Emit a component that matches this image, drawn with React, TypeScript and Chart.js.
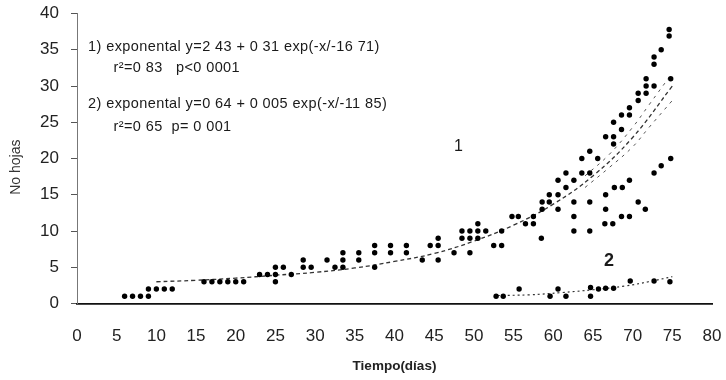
import React, { useEffect, useRef } from "react";
import { Chart, registerables } from "chart.js";

Chart.register(...registerables);

// Series 1 (Tiempo en días, Nº de hojas)
const s1Days = [
  6, 7, 8, 9, 9, 10, 11, 12,
  16, 17, 18, 19, 20, 21,
  23, 24, 25, 25, 25, 26, 27,
  28.5, 28.5, 29.5, 31.5, 32.5, 33.5, 33.5, 33.5,
  35.5, 35.5, 37.5, 37.5, 37.5, 39.5, 39.5,
  41.5, 41.5, 43.5, 44.5, 45.5, 45.5, 45.5, 47.5,
  48.5, 48.5, 49.5, 49.5, 49.5, 50.5, 50.5, 50.5, 51.5,
  52.5, 53.5, 53.5, 54.8, 55.6, 56.5, 57.5, 57.5,
  58.5, 58.6, 58.6, 59.5, 59.5, 60.6, 60.6, 60.6,
  61.6, 61.6, 62.6, 62.6, 62.6, 62.6,
  63.6, 63.6, 64.6, 64.6, 64.6, 64.6, 65.6,
  66.6, 66.6, 66.6, 66.5, 67.6, 67.6, 67.6, 67.7, 67.5,
  68.6, 68.6, 68.7, 68.6, 69.6, 69.6, 69.6, 69.6,
  70.7, 70.7, 70.7, 71.7, 71.7, 71.7, 71.6,
  72.7, 72.7, 72.7, 72.7, 73.6, 73.6,
  74.6, 74.6, 74.8, 74.8,
];
const s1Values = [
  1, 1, 1, 1, 2, 2, 2, 2,
  3, 3, 3, 3, 3, 3,
  4, 4, 4, 5, 3, 5, 4,
  6, 5, 5, 6, 5, 7, 6, 5,
  7, 6, 8, 7, 5, 8, 7,
  8, 7, 6, 8, 9, 8, 6, 7,
  10, 9, 10, 9, 7, 11, 10, 9, 10,
  8, 8, 10, 12, 12, 11, 12, 11,
  9, 14, 13, 15, 14, 15, 13, 17,
  18, 16, 17, 14, 12, 10,
  20, 18, 21, 18, 14, 10, 20,
  23, 15, 13, 11, 25, 23, 22, 16, 11,
  26, 24, 16, 12, 27, 26, 17, 12,
  29, 28, 14, 31, 30, 29, 13,
  34, 33, 30, 18, 35, 19,
  37.8, 36.9, 31, 20,
];

// Series 2
const s2Days = [52.8, 53.7, 55.7, 59.6, 60.6, 61.6, 64.7, 64.7, 65.7, 66.6, 67.6, 69.7, 72.7, 74.7];
const s2Values = [1, 1, 2, 1, 2, 1, 2.2, 1, 2, 2.1, 2.1, 3.1, 3.1, 3];

// Fitted curves
const fit1Days = [10, 15, 20, 25, 30, 35, 40, 45, 50, 55, 60, 65, 70, 75];
const fit1Values = [3.0, 3.2, 3.5, 3.9, 4.3, 4.9, 5.8, 6.9, 8.6, 10.8, 13.7, 17.6, 22.9, 30.0];
const band1Days = [64, 67, 70, 72, 75];
const band1Upper = [17.6, 20.5, 24.3, 27.3, 31.8];
const band1Lower = [16.0, 18.7, 21.6, 24.2, 28.0];
const fit2Days = [53, 57, 61, 65, 69, 72, 75];
const fit2Values = [1.1, 1.2, 1.5, 1.9, 2.4, 3.0, 3.7];

const xTicks = [0, 80, 5];
const yTicks = [0, 40, 5];

const annotations = [
  { x: 1.4, y: 35.4, text: "1) exponental y=2 43 + 0 31 exp(-x/-16 71)", size: 14.5, bold: false },
  { x: 4.6, y: 32.5, text: "r²=0 83   p<0 0001", size: 14.5, bold: false },
  { x: 1.4, y: 27.5, text: "2) exponental y=0 64 + 0 005 exp(-x/-11 85)", size: 14.5, bold: false },
  { x: 4.6, y: 24.3, text: "r²=0 65  p= 0 001", size: 14.5, bold: false },
  { x: 47.5, y: 21.6, text: "1", size: 16, bold: false },
  { x: 66.4, y: 5.8, text: "2", size: 18, bold: true },
];

const yTitle = "No hojas";

const pts = (xs: number[], ys: number[]) => xs.map((x, i) => ({ x, y: ys[i] }));

const FONT = '"Liberation Sans", Arial, sans-serif';

const annotationPlugin = {
  id: "annotations",
  afterDraw(chart: any) {
    const { ctx, scales, chartArea } = chart;
    ctx.save();
    ctx.fillStyle = "#1a1a1a";
    ctx.textBaseline = "middle";
    ctx.textAlign = "left";
    for (const a of annotations) {
      ctx.font = `${a.bold ? "bold " : ""}${a.size}px ${FONT}`;
      (ctx as any).letterSpacing = a.size < 15 ? "0.4px" : "0px";
      ctx.fillText(a.text, scales.x.getPixelForValue(a.x), scales.y.getPixelForValue(a.y));
    }
    (ctx as any).letterSpacing = "0px";
    // vertical axis title
    ctx.translate(16, chartArea.top + (chartArea.bottom - chartArea.top) * 0.53);
    ctx.rotate(-Math.PI / 2);
    ctx.textAlign = "center";
    ctx.fillStyle = "#333";
    ctx.font = `14px ${FONT}`;
    ctx.fillText(yTitle, 0, 0);
    ctx.restore();
  },
};

export default function App() {
  const ref = useRef<HTMLCanvasElement | null>(null);
  useEffect(() => {
    document.body.style.margin = "0";
    const canvas = ref.current;
    if (!canvas) return;
    const font = { family: FONT };
    const chart = new Chart(canvas, {
      type: "scatter",
      data: {
        datasets: [
          {
            data: pts(s1Days, s1Values),
            pointRadius: 2.7,
            pointBackgroundColor: "#000",
            pointBorderColor: "#000",
            pointBorderWidth: 0,
            showLine: false,
          },
          {
            data: pts(s2Days, s2Values),
            pointRadius: 2.7,
            pointBackgroundColor: "#000",
            pointBorderColor: "#000",
            pointBorderWidth: 0,
            showLine: false,
          },
          {
            data: pts(fit1Days, fit1Values),
            showLine: true,
            pointRadius: 0,
            borderColor: "#333",
            borderWidth: 1.3,
            borderDash: [4, 3],
            tension: 0.4,
          },
          {
            data: pts(band1Days, band1Upper),
            showLine: true,
            pointRadius: 0,
            borderColor: "#555",
            borderWidth: 1,
            borderDash: [3, 5],
            tension: 0.4,
          },
          {
            data: pts(band1Days, band1Lower),
            showLine: true,
            pointRadius: 0,
            borderColor: "#555",
            borderWidth: 1,
            borderDash: [3, 5],
            tension: 0.4,
          },
          {
            data: pts(fit2Days, fit2Values),
            showLine: true,
            pointRadius: 0,
            borderColor: "#333",
            borderWidth: 1.2,
            borderDash: [2, 3],
            tension: 0.4,
          },
        ],
      },
      options: {
        responsive: false,
        animation: false,
        layout: { padding: { top: 13.5, right: 14, left: 0, bottom: 0 } },
        plugins: { legend: { display: false }, tooltip: { enabled: false } },
        scales: {
          x: {
            type: "linear",
            min: xTicks[0],
            max: xTicks[1],
            afterFit: (s: any) => {
              s.height = 76.5;
              s.paddingLeft = 0;
              s.paddingRight = 0;
            },
            ticks: { stepSize: xTicks[2], color: "#222", font: { ...font, size: 17 }, padding: 23, maxRotation: 0 },
            grid: { display: true, drawOnChartArea: false, drawTicks: false, color: "transparent" },
            border: { display: true, color: "#111", width: 1.8 },
            title: {
              display: true,
              text: "Tiempo(días)",
              color: "#222",
              font: { ...font, size: 13.5, weight: "bold" },
              padding: { top: 0, bottom: 6 },
            },
          },
          y: {
            type: "linear",
            min: yTicks[0],
            max: yTicks[1],
            afterFit: (s: any) => {
              s.width = 77;
              s.paddingTop = 0;
              s.paddingBottom = 0;
            },
            ticks: { stepSize: yTicks[2], color: "#222", font: { ...font, size: 17 }, padding: 12 },
            grid: { display: true, drawOnChartArea: false, drawTicks: true, tickLength: 6, color: "#555" },
            border: { display: true, color: "#777", width: 1, dash: [3, 3] },
            title: { display: false },
          },
        },
      },
      plugins: [annotationPlugin],
    } as any);
    return () => chart.destroy();
  }, []);
  return (
    <div style={{ width: 726, height: 380, background: "#fff" }}>
      <canvas ref={ref} width={726} height={380} style={{ display: "block" }} />
    </div>
  );
}
